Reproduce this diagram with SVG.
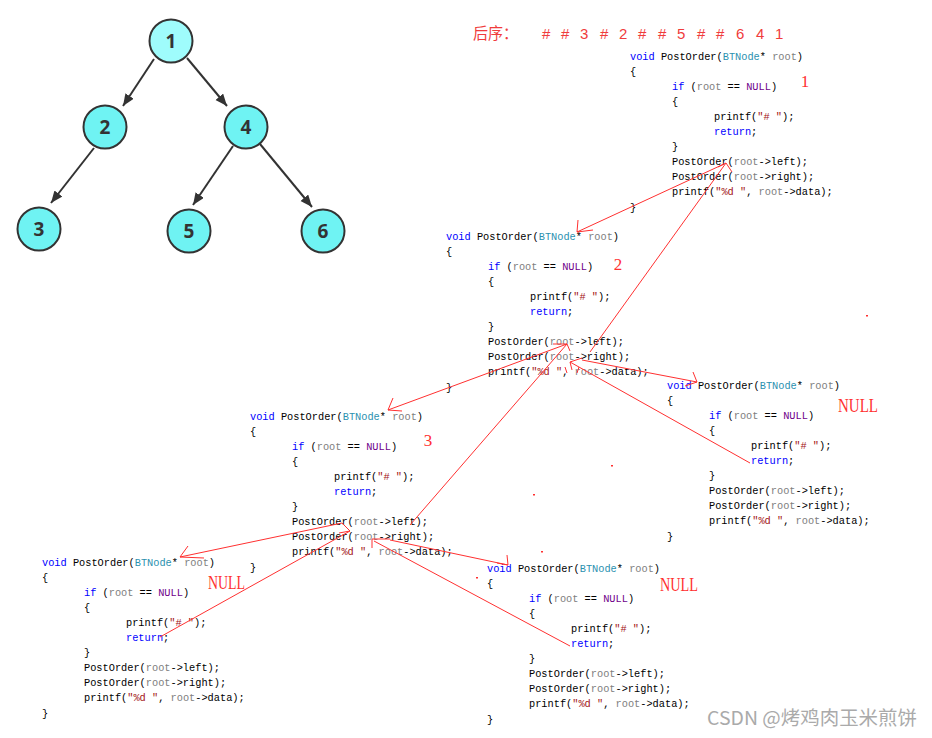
<svg xmlns="http://www.w3.org/2000/svg" width="932" height="738" viewBox="0 0 932 738">
<style>
.code{font-family:"Liberation Mono","DejaVu Sans Mono",monospace;font-size:10.3px;fill:#000;white-space:pre}
.kw{fill:#0000ff}.ty{fill:#2b91af}.va{fill:#808080}.mc{fill:#6f008a}.st{fill:#a31515}
.nd{stroke:#333;stroke-width:2}
.nt{font-family:"Noto Sans","Liberation Sans",sans-serif;font-size:19px;font-weight:bold;fill:#333;text-anchor:middle}
.tr{stroke:#333;stroke-width:2;fill:none}
.rl{stroke:#ff3030;stroke-width:1;fill:none}
.lab{font-family:"Liberation Serif",serif;fill:#ff3030}
</style>
<defs>
<marker id="ah" markerUnits="userSpaceOnUse" markerWidth="13" markerHeight="11" refX="12" refY="5" orient="auto"><path d="M0,0 L12,5 L0,10 z" fill="#333"/></marker>
<g id="code">
<text class="code" x="0" y="0" xml:space="preserve"><tspan class="kw">void</tspan> PostOrder(<tspan class="ty">BTNode</tspan>* <tspan class="va">root</tspan>)</text>
<text class="code" x="0" y="15.1">{</text>
<text class="code" x="42" y="30.2" xml:space="preserve"><tspan class="kw">if</tspan> (<tspan class="va">root</tspan> == <tspan class="mc">NULL</tspan>)</text>
<text class="code" x="42" y="45.3">{</text>
<text class="code" x="84" y="60.4" xml:space="preserve">printf(<tspan class="st">"# "</tspan>);</text>
<text class="code" x="84" y="75.5" xml:space="preserve"><tspan class="kw">return</tspan>;</text>
<text class="code" x="42" y="90.6">}</text>
<text class="code" x="42" y="105.7" xml:space="preserve">PostOrder(<tspan class="va">root</tspan>-&gt;left);</text>
<text class="code" x="42" y="120.8" xml:space="preserve">PostOrder(<tspan class="va">root</tspan>-&gt;right);</text>
<text class="code" x="42" y="135.9" xml:space="preserve">printf(<tspan class="st">"%d "</tspan>, <tspan class="va">root</tspan>-&gt;data);</text>
<text class="code" x="0" y="151">}</text>
</g>
</defs>
<rect width="932" height="738" fill="#fff"/>

<g id="tree-edges">
<line class="tr" x1="154" y1="59" x2="123" y2="106" marker-end="url(#ah)"/>
<line class="tr" x1="187" y1="58" x2="227" y2="106" marker-end="url(#ah)"/>
<line class="tr" x1="94" y1="148" x2="51" y2="203" marker-end="url(#ah)"/>
<line class="tr" x1="233" y1="146" x2="193" y2="205" marker-end="url(#ah)"/>
<line class="tr" x1="260" y1="144" x2="312" y2="207" marker-end="url(#ah)"/>
</g>
<g id="n1"><circle class="nd" cx="171" cy="41" r="21.5" fill="#9ffcfc"/><text class="nt" x="171" y="48">1</text></g>
<g id="n2"><circle class="nd" cx="105" cy="127" r="21.5" fill="#6ff3f3"/><text class="nt" x="105" y="134">2</text></g>
<g id="n4"><circle class="nd" cx="246" cy="127" r="21.5" fill="#6ff3f3"/><text class="nt" x="246" y="134">4</text></g>
<g id="n3"><circle class="nd" cx="39" cy="229" r="21.5" fill="#6ff3f3"/><text class="nt" x="39" y="236">3</text></g>
<g id="n5"><circle class="nd" cx="189" cy="231" r="21.5" fill="#6ff3f3"/><text class="nt" x="189" y="238">5</text></g>
<g id="n6"><circle class="nd" cx="323" cy="231" r="21.5" fill="#6ff3f3"/><text class="nt" x="323" y="238">6</text></g>

<g id="title">
<text x="473" y="39" font-family="'Noto Sans CJK SC',sans-serif" font-size="16" fill="#f03c3c" textLength="45" lengthAdjust="spacingAndGlyphs">后序：</text>
<text y="39" font-family="'Liberation Sans',sans-serif" font-size="15" fill="#f03c3c" x="542 551 561 571 580 590 600 609 619 629 638 648 658 668 677 687 697 707 716 726 736 746 756 766 775">#  #  3  #  2  #  #  5  #  #  6  4  1</text>
</g>

<g id="block1" transform="translate(630,59.5)"><use href="#code"/></g>
<g id="block2" transform="translate(446,239.5)"><use href="#code"/></g>
<g id="block3" transform="translate(250,419.5)"><use href="#code"/></g>
<g id="block4" transform="translate(667,388.5)"><use href="#code"/></g>
<g id="block5" transform="translate(42,565.5)"><use href="#code"/></g>
<g id="block6" transform="translate(487,571.5)"><use href="#code"/></g>

<g id="labels">
<text class="lab" x="805" y="87" font-size="17" text-anchor="middle">1</text>
<text class="lab" x="618" y="270" font-size="17" text-anchor="middle">2</text>
<text class="lab" x="428" y="446" font-size="17" text-anchor="middle">3</text>
<text class="lab" x="838" y="412" font-size="18" textLength="40" lengthAdjust="spacingAndGlyphs">NULL</text>
<text class="lab" x="208" y="589" font-size="18" textLength="37" lengthAdjust="spacingAndGlyphs">NULL</text>
<text class="lab" x="660" y="591" font-size="18" textLength="38" lengthAdjust="spacingAndGlyphs">NULL</text>
</g>

<g id="connectors">
<path class="rl" d="M724,164 L577,232 M577,232 L578,220 M577,232 L593,230"/>
<path class="rl" d="M590,352 L726,163 M726,163 L732,172 M726,163 L718,167"/>
<path class="rl" d="M567,344 L388,410 M388,410 L393,398 M388,410 L402,411"/>
<path class="rl" d="M410,525 L567,344 M567,344 L553,344 M567,344 L570,351"/>
<path class="rl" d="M582,360 L697,382 M697,382 L693,372 M697,382 L685,386"/>
<path class="rl" d="M750,463 L570,362 M570,362 L582,358 M570,362 L572,370"/>
<path class="rl" d="M342,523 L180,557 M180,557 L188,546 M180,557 L204,558"/>
<path class="rl" d="M160,637 L350,531 M350,531 L342,523 M350,531 L339,533"/>
<path class="rl" d="M390,540 L508,565 M508,565 L507,555 M508,565 L497,563"/>
<path class="rl" d="M570,646 L374,541 M372,539 L390,539 M372,539 L372,548"/>
<path class="rl" d="M565,367 L567,373 M579,367 L577,373"/>
</g>
<g id="dots" fill="#ff3030">
<rect x="866" y="315" width="2" height="1.5"/>
<rect x="611" y="465" width="2" height="1.5"/>
<rect x="533" y="494" width="2" height="1.5"/>
<rect x="541" y="551" width="2" height="1.5"/>
<rect x="476" y="577" width="2" height="1.5"/>
</g>
<text id="watermark" x="707" y="725" font-family="'Noto Sans CJK SC',sans-serif" font-size="19" fill="#aaaaaa" textLength="210" lengthAdjust="spacingAndGlyphs">CSDN @烤鸡肉玉米煎饼</text>
</svg>
